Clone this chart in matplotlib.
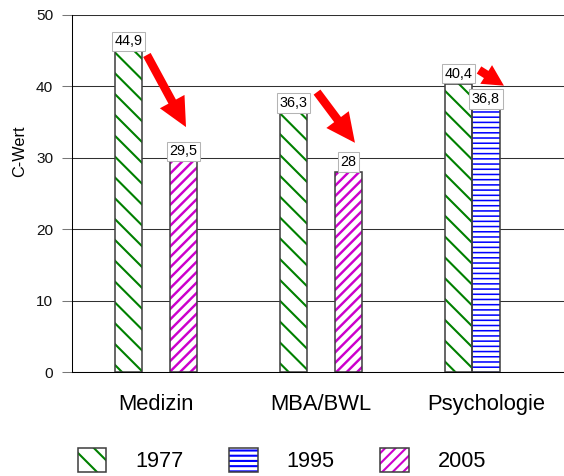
import numpy as np
import matplotlib.pyplot as plt
from matplotlib.patches import FancyArrowPatch
from matplotlib.legend_handler import HandlerTuple

plt.rcParams['font.family'] = ['Liberation Sans', 'DejaVu Sans']
plt.rcParams['hatch.linewidth'] = 1.2

# C-Wert per field of study and survey year
categories = ['Medizin', 'MBA/BWL', 'Psychologie']
years = ['1977', '1995', '2005']
c_1977 = [44.9, 36.3, 40.4]
c_1995 = [np.nan, np.nan, 36.8]
c_2005 = [29.5, 28.0, np.nan]

colors = ['#008000', '#0000ff', '#cc00cc']
hatches = ['\\\\', '----', '////']
hatch_widths = [1.2, 0.9, 1.4]

# red trend arrows (start, end) in data coordinates
arrow_start = [(-0.055, 44.4), (0.976, 39.2), (1.958, 42.3)]
arrow_end = [(0.182, 34.3), (1.206, 32.1), (2.109, 40.1)]
arrow_styles = ['simple,head_width=2.8,head_length=2.9,tail_width=0.85',
                'simple,head_width=2.8,head_length=2.9,tail_width=0.85',
                'simple,head_width=2.2,head_length=2.1,tail_width=0.85']

dpi = 125
fig = plt.figure(figsize=(564 / dpi, 476 / dpi), dpi=dpi)
ax = fig.add_axes([72 / 564, 104 / 476, 492 / 564, 357 / 476])

x = np.arange(len(categories))
width = 0.167
handles = []
for i, vals in enumerate([c_1977, c_1995, c_2005]):
    pos = x + (i - 1) * width
    fill = ax.bar(pos, vals, width, color='white', edgecolor=colors[i],
                  hatch=hatches[i], linewidth=0, zorder=2)
    for p in fill:
        if hasattr(p, 'set_hatch_linewidth'):
            p.set_hatch_linewidth(hatch_widths[i])
    edge = ax.bar(pos, vals, width, fill=False, edgecolor='#404040',
                  linewidth=0.9, zorder=3)
    handles.append((fill[0], edge[0]))

    # value boxes on top of each bar
    for xp, v in zip(pos, vals):
        if np.isnan(v):
            continue
        ax.annotate(f'{v:g}'.replace('.', ','), xy=(xp, v), xytext=(0, 1.7),
                    textcoords='offset points', ha='center', va='bottom',
                    fontsize=8.3, zorder=6,
                    bbox=dict(boxstyle='square,pad=0.2', fc='white',
                              ec='#b4b4b4', lw=0.6))

for a, b, st in zip(arrow_start, arrow_end, arrow_styles):
    ax.add_patch(FancyArrowPatch(a, b, arrowstyle=st, mutation_scale=10 * 72 / dpi,
                                 color='red', lw=0, shrinkA=0, shrinkB=0, zorder=4))

ax.set_xlim(-0.509, 2.473)
ax.set_ylim(0, 50)
ax.set_yticks(range(0, 51, 10))
ax.set_xticks(x)
ax.set_xticklabels(categories)
ax.yaxis.grid(True, color='#303030', linewidth=0.6)
ax.set_axisbelow(True)

for side in ['top', 'right']:
    ax.spines[side].set_visible(False)
for side in ['left', 'bottom']:
    ax.spines[side].set_linewidth(0.6)
    ax.spines[side].set_color('black')

ax.tick_params(axis='y', length=5.76, width=0.6, colors='#777777', pad=5,
               labelsize=8.9, labelcolor='#111111')
ax.tick_params(axis='x', length=0, pad=12.7, labelsize=12.7)

ax.set_ylabel('C-Wert', fontsize=9.4)
ax.yaxis.set_label_coords(-0.092, 0.619)

fig.legend(handles, years, handler_map={tuple: HandlerTuple(ndivide=1, pad=0)},
           ncol=3, loc='center', bbox_to_anchor=(282 / 564, 0.033),
           frameon=False, fontsize=12.5, handlelength=1.33, handleheight=1.29,
           handletextpad=1.33, columnspacing=2.1, borderpad=0, borderaxespad=0)

fig.savefig('out.png', dpi=dpi)
